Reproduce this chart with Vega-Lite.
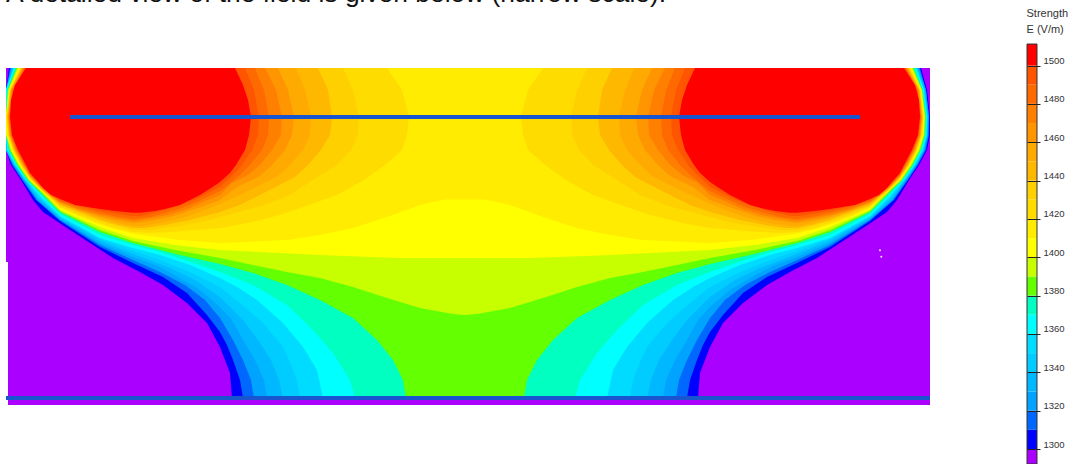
{"$schema":"https://vega.github.io/schema/vega-lite/v6.json","width":1072,"height":464,"autosize":"none","padding":0,"background":"white","config":{"view":{"stroke":null}},
"layer":[
{"layer":[
{"data":{"values":[{"x":6,"x2":930,"y":68,"y2":262},{"x":8,"x2":930,"y":262,"y2":405}]},"mark":{"type":"rect","fill":"#aa00ff"},"encoding":{"x":{"field":"x","type":"quantitative","scale":{"domain":[0,1072],"nice":false,"zero":false},"axis":null},"x2":{"field":"x2"},"y":{"field":"y","type":"quantitative","scale":{"domain":[0,464],"reverse":true,"nice":false,"zero":false},"axis":null},"y2":{"field":"y2"}}},
{"data":{"values":[
{"g":"a00","level":1300,"y":68,"x":9,"x2":921},{"g":"a00","level":1300,"y":90,"x":6,"x2":927},{"g":"a00","level":1300,"y":117,"x":6,"x2":930},{"g":"a00","level":1300,"y":135,"x":6,"x2":930},{"g":"a00","level":1300,"y":150,"x":6,"x2":927},{"g":"a00","level":1300,"y":165,"x":11,"x2":919},{"g":"a00","level":1300,"y":180,"x":21,"x2":909},{"g":"a00","level":1300,"y":200,"x":33,"x2":897},{"g":"a00","level":1300,"y":212,"x":43,"x2":887},{"g":"a00","level":1300,"y":228,"x":67,"x2":863},{"g":"a00","level":1300,"y":243,"x":90,"x2":840},{"g":"a00","level":1300,"y":258,"x":113,"x2":817},{"g":"a00","level":1300,"y":272,"x":140,"x2":790},{"g":"a00","level":1300,"y":285,"x":163,"x2":767},{"g":"a00","level":1300,"y":303,"x":187,"x2":743},{"g":"a00","level":1300,"y":323,"x":207,"x2":723},{"g":"a00","level":1300,"y":347,"x":220,"x2":710},{"g":"a00","level":1300,"y":373,"x":230,"x2":700},{"g":"a00","level":1300,"y":398,"x":232,"x2":698},
{"g":"a01","level":1310,"y":68,"x":10,"x2":920},{"g":"a01","level":1310,"y":90,"x":6,"x2":926},{"g":"a01","level":1310,"y":117,"x":6,"x2":929},{"g":"a01","level":1310,"y":135,"x":6,"x2":929},{"g":"a01","level":1310,"y":150,"x":6,"x2":926},{"g":"a01","level":1310,"y":165,"x":12,"x2":918},{"g":"a01","level":1310,"y":180,"x":22,"x2":908},{"g":"a01","level":1310,"y":200,"x":36,"x2":894},{"g":"a01","level":1310,"y":221,"x":60,"x2":870},{"g":"a01","level":1310,"y":247,"x":100,"x2":830},{"g":"a01","level":1310,"y":263,"x":133,"x2":797},{"g":"a01","level":1310,"y":277,"x":163,"x2":767},{"g":"a01","level":1310,"y":293,"x":187,"x2":743},{"g":"a01","level":1310,"y":315,"x":207,"x2":723},{"g":"a01","level":1310,"y":332,"x":220,"x2":710},{"g":"a01","level":1310,"y":345,"x":227,"x2":703},{"g":"a01","level":1310,"y":360,"x":233,"x2":697},{"g":"a01","level":1310,"y":380,"x":240,"x2":690},{"g":"a01","level":1310,"y":398,"x":243,"x2":687},
{"g":"a02","level":1320,"y":68,"x":11,"x2":919},{"g":"a02","level":1320,"y":90,"x":6,"x2":926},{"g":"a02","level":1320,"y":117,"x":6,"x2":929},{"g":"a02","level":1320,"y":135,"x":6,"x2":928},{"g":"a02","level":1320,"y":150,"x":6,"x2":925},{"g":"a02","level":1320,"y":165,"x":13,"x2":917},{"g":"a02","level":1320,"y":180,"x":23,"x2":907},{"g":"a02","level":1320,"y":200,"x":37,"x2":893},{"g":"a02","level":1320,"y":220,"x":60,"x2":870},{"g":"a02","level":1320,"y":245,"x":100,"x2":830},{"g":"a02","level":1320,"y":260,"x":133,"x2":797},{"g":"a02","level":1320,"y":272,"x":160,"x2":770},{"g":"a02","level":1320,"y":285,"x":185,"x2":745},{"g":"a02","level":1320,"y":300,"x":205,"x2":725},{"g":"a02","level":1320,"y":318,"x":220,"x2":710},{"g":"a02","level":1320,"y":340,"x":233,"x2":697},{"g":"a02","level":1320,"y":360,"x":243,"x2":687},{"g":"a02","level":1320,"y":380,"x":251,"x2":679},{"g":"a02","level":1320,"y":398,"x":254,"x2":676},
{"g":"a03","level":1330,"y":68,"x":12,"x2":918},{"g":"a03","level":1330,"y":90,"x":6,"x2":925},{"g":"a03","level":1330,"y":117,"x":6,"x2":928},{"g":"a03","level":1330,"y":135,"x":6,"x2":928},{"g":"a03","level":1330,"y":150,"x":6,"x2":924},{"g":"a03","level":1330,"y":165,"x":14,"x2":916},{"g":"a03","level":1330,"y":180,"x":24,"x2":906},{"g":"a03","level":1330,"y":200,"x":38,"x2":892},{"g":"a03","level":1330,"y":219,"x":60,"x2":870},{"g":"a03","level":1330,"y":243,"x":100,"x2":830},{"g":"a03","level":1330,"y":257,"x":133,"x2":797},{"g":"a03","level":1330,"y":265,"x":155,"x2":775},{"g":"a03","level":1330,"y":275,"x":175,"x2":755},{"g":"a03","level":1330,"y":290,"x":200,"x2":730},{"g":"a03","level":1330,"y":307,"x":220,"x2":710},{"g":"a03","level":1330,"y":320,"x":232,"x2":698},{"g":"a03","level":1330,"y":340,"x":243,"x2":687},{"g":"a03","level":1330,"y":360,"x":255,"x2":675},{"g":"a03","level":1330,"y":380,"x":264,"x2":666},{"g":"a03","level":1330,"y":398,"x":267,"x2":663},
{"g":"a04","level":1340,"y":68,"x":13,"x2":917},{"g":"a04","level":1340,"y":90,"x":6,"x2":925},{"g":"a04","level":1340,"y":117,"x":6,"x2":928},{"g":"a04","level":1340,"y":135,"x":6,"x2":927},{"g":"a04","level":1340,"y":150,"x":6,"x2":924},{"g":"a04","level":1340,"y":165,"x":14,"x2":916},{"g":"a04","level":1340,"y":180,"x":25,"x2":905},{"g":"a04","level":1340,"y":198,"x":38,"x2":892},{"g":"a04","level":1340,"y":218,"x":60,"x2":870},{"g":"a04","level":1340,"y":241,"x":100,"x2":830},{"g":"a04","level":1340,"y":254,"x":133,"x2":797},{"g":"a04","level":1340,"y":268,"x":170,"x2":760},{"g":"a04","level":1340,"y":280,"x":195,"x2":735},{"g":"a04","level":1340,"y":297,"x":220,"x2":710},{"g":"a04","level":1340,"y":320,"x":243,"x2":687},{"g":"a04","level":1340,"y":340,"x":258,"x2":672},{"g":"a04","level":1340,"y":360,"x":271,"x2":659},{"g":"a04","level":1340,"y":380,"x":279,"x2":651},{"g":"a04","level":1340,"y":398,"x":283,"x2":647},
{"g":"a05","level":1350,"y":68,"x":13.5,"x2":916.5},{"g":"a05","level":1350,"y":90,"x":6,"x2":924},{"g":"a05","level":1350,"y":117,"x":6,"x2":927.4},{"g":"a05","level":1350,"y":135,"x":6,"x2":927},{"g":"a05","level":1350,"y":150,"x":7,"x2":923},{"g":"a05","level":1350,"y":165,"x":15,"x2":915},{"g":"a05","level":1350,"y":180,"x":25,"x2":905},{"g":"a05","level":1350,"y":197,"x":39,"x2":891},{"g":"a05","level":1350,"y":217,"x":60,"x2":870},{"g":"a05","level":1350,"y":239,"x":100,"x2":830},{"g":"a05","level":1350,"y":251,"x":133,"x2":797},{"g":"a05","level":1350,"y":260,"x":160,"x2":770},{"g":"a05","level":1350,"y":272,"x":190,"x2":740},{"g":"a05","level":1350,"y":287,"x":220,"x2":710},{"g":"a05","level":1350,"y":303,"x":240,"x2":690},{"g":"a05","level":1350,"y":323,"x":263,"x2":667},{"g":"a05","level":1350,"y":347,"x":283,"x2":647},{"g":"a05","level":1350,"y":360,"x":289,"x2":641},{"g":"a05","level":1350,"y":380,"x":297,"x2":633},{"g":"a05","level":1350,"y":398,"x":300,"x2":630},
{"g":"a06","level":1360,"y":68,"x":14,"x2":916},{"g":"a06","level":1360,"y":90,"x":6,"x2":924},{"g":"a06","level":1360,"y":117,"x":6,"x2":927},{"g":"a06","level":1360,"y":135,"x":6,"x2":926.4},{"g":"a06","level":1360,"y":150,"x":7.5,"x2":922.5},{"g":"a06","level":1360,"y":165,"x":15.5,"x2":914.5},{"g":"a06","level":1360,"y":180,"x":26,"x2":904},{"g":"a06","level":1360,"y":196,"x":40,"x2":890},{"g":"a06","level":1360,"y":216,"x":60,"x2":870},{"g":"a06","level":1360,"y":238,"x":100,"x2":830},{"g":"a06","level":1360,"y":248,"x":133,"x2":797},{"g":"a06","level":1360,"y":255,"x":160,"x2":770},{"g":"a06","level":1360,"y":265,"x":190,"x2":740},{"g":"a06","level":1360,"y":278,"x":220,"x2":710},{"g":"a06","level":1360,"y":287,"x":237,"x2":693},{"g":"a06","level":1360,"y":300,"x":257,"x2":673},{"g":"a06","level":1360,"y":323,"x":283,"x2":647},{"g":"a06","level":1360,"y":347,"x":303,"x2":627},{"g":"a06","level":1360,"y":370,"x":317,"x2":613},{"g":"a06","level":1360,"y":398,"x":323,"x2":607},
{"g":"a07","level":1370,"y":68,"x":15,"x2":915},{"g":"a07","level":1370,"y":90,"x":7,"x2":923},{"g":"a07","level":1370,"y":117,"x":6,"x2":926.3},{"g":"a07","level":1370,"y":135,"x":6,"x2":925.6},{"g":"a07","level":1370,"y":150,"x":8.5,"x2":921.5},{"g":"a07","level":1370,"y":165,"x":16.5,"x2":913.5},{"g":"a07","level":1370,"y":180,"x":27,"x2":903},{"g":"a07","level":1370,"y":194,"x":40,"x2":890},{"g":"a07","level":1370,"y":214,"x":60,"x2":870},{"g":"a07","level":1370,"y":235,"x":100,"x2":830},{"g":"a07","level":1370,"y":245,"x":133,"x2":797},{"g":"a07","level":1370,"y":252,"x":160,"x2":770},{"g":"a07","level":1370,"y":260,"x":185,"x2":745},{"g":"a07","level":1370,"y":272,"x":220,"x2":710},{"g":"a07","level":1370,"y":285,"x":253,"x2":677},{"g":"a07","level":1370,"y":305,"x":287,"x2":643},{"g":"a07","level":1370,"y":330,"x":313,"x2":617},{"g":"a07","level":1370,"y":353,"x":333,"x2":597},{"g":"a07","level":1370,"y":380,"x":350,"x2":580},{"g":"a07","level":1370,"y":398,"x":355,"x2":575},
{"g":"a08","level":1380,"y":68,"x":16.5,"x2":913.5},{"g":"a08","level":1380,"y":90,"x":8,"x2":922},{"g":"a08","level":1380,"y":117,"x":6,"x2":925.6},{"g":"a08","level":1380,"y":135,"x":6,"x2":924.7},{"g":"a08","level":1380,"y":150,"x":9.6,"x2":920.4},{"g":"a08","level":1380,"y":165,"x":17.6,"x2":912.4},{"g":"a08","level":1380,"y":180,"x":28,"x2":902},{"g":"a08","level":1380,"y":192,"x":40,"x2":890},{"g":"a08","level":1380,"y":212,"x":60,"x2":870},{"g":"a08","level":1380,"y":232,"x":100,"x2":830},{"g":"a08","level":1380,"y":243,"x":133,"x2":797},{"g":"a08","level":1380,"y":255,"x":180,"x2":750},{"g":"a08","level":1380,"y":264,"x":220,"x2":710},{"g":"a08","level":1380,"y":273,"x":253,"x2":677},{"g":"a08","level":1380,"y":285,"x":287,"x2":643},{"g":"a08","level":1380,"y":300,"x":320,"x2":610},{"g":"a08","level":1380,"y":318,"x":353,"x2":577},{"g":"a08","level":1380,"y":340,"x":377,"x2":553},{"g":"a08","level":1380,"y":360,"x":393,"x2":537},{"g":"a08","level":1380,"y":380,"x":403,"x2":527},{"g":"a08","level":1380,"y":398,"x":406,"x2":524},
{"g":"a09","level":1390,"y":68,"x":17.5,"x2":912.5},{"g":"a09","level":1390,"y":90,"x":8,"x2":922},{"g":"a09","level":1390,"y":117,"x":6,"x2":925},{"g":"a09","level":1390,"y":135,"x":6,"x2":924},{"g":"a09","level":1390,"y":150,"x":10.5,"x2":919.5},{"g":"a09","level":1390,"y":165,"x":18.5,"x2":911.5},{"g":"a09","level":1390,"y":180,"x":29,"x2":901},{"g":"a09","level":1390,"y":190,"x":40,"x2":890},{"g":"a09","level":1390,"y":211,"x":60,"x2":870},{"g":"a09","level":1390,"y":230,"x":100,"x2":830},{"g":"a09","level":1390,"y":241,"x":133,"x2":797},{"g":"a09","level":1390,"y":250,"x":175,"x2":755},{"g":"a09","level":1390,"y":258,"x":220,"x2":710},{"g":"a09","level":1390,"y":265,"x":253,"x2":677},{"g":"a09","level":1390,"y":272,"x":287,"x2":643},{"g":"a09","level":1390,"y":278,"x":320,"x2":610},{"g":"a09","level":1390,"y":287,"x":353,"x2":577},{"g":"a09","level":1390,"y":298,"x":387,"x2":543},{"g":"a09","level":1390,"y":308,"x":420,"x2":510},{"g":"a09","level":1390,"y":314,"x":453,"x2":477},{"g":"a09","level":1390,"y":315,"x":465,"x2":465},
{"g":"a10","level":1400,"y":68,"x":18.5,"x2":911.5},{"g":"a10","level":1400,"y":90,"x":9,"x2":921},{"g":"a10","level":1400,"y":117,"x":6,"x2":924.4},{"g":"a10","level":1400,"y":135,"x":6.7,"x2":923.3},{"g":"a10","level":1400,"y":150,"x":11.4,"x2":918.6},{"g":"a10","level":1400,"y":165,"x":19.4,"x2":910.6},{"g":"a10","level":1400,"y":180,"x":30,"x2":900},{"g":"a10","level":1400,"y":188,"x":40,"x2":890},{"g":"a10","level":1400,"y":209.5,"x":60,"x2":870},{"g":"a10","level":1400,"y":227,"x":100,"x2":830},{"g":"a10","level":1400,"y":238,"x":133,"x2":797},{"g":"a10","level":1400,"y":245,"x":175,"x2":755},{"g":"a10","level":1400,"y":250,"x":220,"x2":710},{"g":"a10","level":1400,"y":255,"x":320,"x2":610},{"g":"a10","level":1400,"y":257,"x":370,"x2":560},{"g":"a10","level":1400,"y":258,"x":400,"x2":530},
{"g":"a11","level":1410,"y":68,"x":19,"x2":911},{"g":"a11","level":1410,"y":90,"x":9,"x2":921},{"g":"a11","level":1410,"y":117,"x":6,"x2":924},{"g":"a11","level":1410,"y":135,"x":7,"x2":923},{"g":"a11","level":1410,"y":150,"x":12,"x2":918},{"g":"a11","level":1410,"y":165,"x":20,"x2":910},{"g":"a11","level":1410,"y":180,"x":29,"x2":901},{"g":"a11","level":1410,"y":195,"x":45,"x2":885},{"g":"a11","level":1410,"y":207,"x":58,"x2":872},{"g":"a11","level":1410,"y":215,"x":75,"x2":855},{"g":"a11","level":1410,"y":223,"x":95,"x2":835},{"g":"a11","level":1410,"y":228,"x":110,"x2":820},{"g":"a11","level":1410,"y":234,"x":135,"x2":795},{"g":"a11","level":1410,"y":240,"x":180,"x2":750},{"g":"a11","level":1410,"y":243,"x":220,"x2":710},
{"g":"hump","level":1400,"y":199.5,"x":445,"x2":485},{"g":"hump","level":1400,"y":201,"x":437,"x2":493},{"g":"hump","level":1400,"y":205,"x":420,"x2":510},{"g":"hump","level":1400,"y":217,"x":387,"x2":543},{"g":"hump","level":1400,"y":228,"x":353,"x2":577},{"g":"hump","level":1400,"y":235,"x":320,"x2":610},{"g":"hump","level":1400,"y":240,"x":287,"x2":643},{"g":"hump","level":1400,"y":243,"x":220,"x2":710},{"g":"hump","level":1400,"y":244,"x":220,"x2":710},
{"g":"b20L","level":1420,"y":68,"x":20,"x2":387},{"g":"b20L","level":1420,"y":90,"x":10,"x2":402},{"g":"b20L","level":1420,"y":117,"x":6.5,"x2":409},{"g":"b20L","level":1420,"y":135,"x":8,"x2":407},{"g":"b20L","level":1420,"y":150,"x":13,"x2":402},{"g":"b20L","level":1420,"y":165,"x":21,"x2":385},{"g":"b20L","level":1420,"y":180,"x":31,"x2":364},{"g":"b20L","level":1420,"y":195,"x":47,"x2":337},{"g":"b20L","level":1420,"y":207,"x":60,"x2":303},{"g":"b20L","level":1420,"y":215,"x":78,"x2":280},{"g":"b20L","level":1420,"y":223,"x":100,"x2":248},{"g":"b20L","level":1420,"y":228,"x":115,"x2":220},{"g":"b20L","level":1420,"y":232,"x":133,"x2":170},{"g":"b20L","level":1420,"y":233,"x":150,"x2":150},
{"g":"b20R","level":1420,"y":68,"x":543,"x2":910},{"g":"b20R","level":1420,"y":90,"x":528,"x2":920},{"g":"b20R","level":1420,"y":117,"x":521,"x2":923.5},{"g":"b20R","level":1420,"y":135,"x":523,"x2":922},{"g":"b20R","level":1420,"y":150,"x":528,"x2":917},{"g":"b20R","level":1420,"y":165,"x":545,"x2":909},{"g":"b20R","level":1420,"y":180,"x":566,"x2":899},{"g":"b20R","level":1420,"y":195,"x":593,"x2":883},{"g":"b20R","level":1420,"y":207,"x":627,"x2":870},{"g":"b20R","level":1420,"y":215,"x":650,"x2":852},{"g":"b20R","level":1420,"y":223,"x":682,"x2":830},{"g":"b20R","level":1420,"y":228,"x":710,"x2":815},{"g":"b20R","level":1420,"y":232,"x":760,"x2":797},{"g":"b20R","level":1420,"y":233,"x":780,"x2":780},
{"g":"b30L","level":1430,"y":68,"x":21,"x2":343},{"g":"b30L","level":1430,"y":90,"x":10,"x2":353},{"g":"b30L","level":1430,"y":117,"x":7,"x2":359},{"g":"b30L","level":1430,"y":135,"x":8.5,"x2":358},{"g":"b30L","level":1430,"y":150,"x":13.5,"x2":351},{"g":"b30L","level":1430,"y":165,"x":21.5,"x2":337},{"g":"b30L","level":1430,"y":178,"x":30,"x2":316},{"g":"b30L","level":1430,"y":195,"x":48,"x2":290},{"g":"b30L","level":1430,"y":206,"x":60,"x2":262},{"g":"b30L","level":1430,"y":215,"x":82,"x2":228},{"g":"b30L","level":1430,"y":221,"x":100,"x2":205},{"g":"b30L","level":1430,"y":226,"x":118,"x2":180},{"g":"b30L","level":1430,"y":230,"x":133,"x2":150},
{"g":"b30R","level":1430,"y":68,"x":587,"x2":909},{"g":"b30R","level":1430,"y":90,"x":577,"x2":920},{"g":"b30R","level":1430,"y":117,"x":571,"x2":923},{"g":"b30R","level":1430,"y":135,"x":572,"x2":921.5},{"g":"b30R","level":1430,"y":150,"x":579,"x2":916.5},{"g":"b30R","level":1430,"y":165,"x":593,"x2":908.5},{"g":"b30R","level":1430,"y":178,"x":614,"x2":900},{"g":"b30R","level":1430,"y":195,"x":640,"x2":882},{"g":"b30R","level":1430,"y":206,"x":668,"x2":870},{"g":"b30R","level":1430,"y":215,"x":702,"x2":848},{"g":"b30R","level":1430,"y":221,"x":725,"x2":830},{"g":"b30R","level":1430,"y":226,"x":750,"x2":812},{"g":"b30R","level":1430,"y":230,"x":780,"x2":797},
{"g":"b40L","level":1440,"y":68,"x":21.5,"x2":318},{"g":"b40L","level":1440,"y":90,"x":10.5,"x2":328},{"g":"b40L","level":1440,"y":117,"x":7.4,"x2":332},{"g":"b40L","level":1440,"y":135,"x":9,"x2":330},{"g":"b40L","level":1440,"y":150,"x":14,"x2":321},{"g":"b40L","level":1440,"y":165,"x":22,"x2":308},{"g":"b40L","level":1440,"y":177,"x":30,"x2":295},{"g":"b40L","level":1440,"y":195,"x":49,"x2":260},{"g":"b40L","level":1440,"y":205,"x":60,"x2":240},{"g":"b40L","level":1440,"y":212,"x":80,"x2":220},{"g":"b40L","level":1440,"y":220,"x":100,"x2":190},{"g":"b40L","level":1440,"y":225,"x":118,"x2":165},{"g":"b40L","level":1440,"y":228,"x":133,"x2":145},
{"g":"b40R","level":1440,"y":68,"x":612,"x2":908.5},{"g":"b40R","level":1440,"y":90,"x":602,"x2":919.5},{"g":"b40R","level":1440,"y":117,"x":598,"x2":922.6},{"g":"b40R","level":1440,"y":135,"x":600,"x2":921},{"g":"b40R","level":1440,"y":150,"x":609,"x2":916},{"g":"b40R","level":1440,"y":165,"x":622,"x2":908},{"g":"b40R","level":1440,"y":177,"x":635,"x2":900},{"g":"b40R","level":1440,"y":195,"x":670,"x2":881},{"g":"b40R","level":1440,"y":205,"x":690,"x2":870},{"g":"b40R","level":1440,"y":212,"x":710,"x2":850},{"g":"b40R","level":1440,"y":220,"x":740,"x2":830},{"g":"b40R","level":1440,"y":225,"x":765,"x2":812},{"g":"b40R","level":1440,"y":228,"x":785,"x2":797},
{"g":"b50L","level":1450,"y":68,"x":22,"x2":296},{"g":"b50L","level":1450,"y":90,"x":11,"x2":305},{"g":"b50L","level":1450,"y":117,"x":7.8,"x2":311},{"g":"b50L","level":1450,"y":135,"x":9.4,"x2":310},{"g":"b50L","level":1450,"y":150,"x":14.5,"x2":303},{"g":"b50L","level":1450,"y":165,"x":22.5,"x2":290},{"g":"b50L","level":1450,"y":176.7,"x":30,"x2":277},{"g":"b50L","level":1450,"y":190,"x":42,"x2":250},{"g":"b50L","level":1450,"y":204,"x":60,"x2":220},{"g":"b50L","level":1450,"y":212,"x":80,"x2":200},{"g":"b50L","level":1450,"y":218,"x":100,"x2":182},{"g":"b50L","level":1450,"y":223,"x":118,"x2":160},{"g":"b50L","level":1450,"y":226,"x":133,"x2":140},
{"g":"b50R","level":1450,"y":68,"x":634,"x2":908},{"g":"b50R","level":1450,"y":90,"x":625,"x2":919},{"g":"b50R","level":1450,"y":117,"x":619,"x2":922.2},{"g":"b50R","level":1450,"y":135,"x":620,"x2":920.6},{"g":"b50R","level":1450,"y":150,"x":627,"x2":915.5},{"g":"b50R","level":1450,"y":165,"x":640,"x2":907.5},{"g":"b50R","level":1450,"y":176.7,"x":653,"x2":900},{"g":"b50R","level":1450,"y":190,"x":680,"x2":888},{"g":"b50R","level":1450,"y":204,"x":710,"x2":870},{"g":"b50R","level":1450,"y":212,"x":730,"x2":850},{"g":"b50R","level":1450,"y":218,"x":748,"x2":830},{"g":"b50R","level":1450,"y":223,"x":770,"x2":812},{"g":"b50R","level":1450,"y":226,"x":790,"x2":797},
{"g":"b60L","level":1460,"y":68,"x":23,"x2":278},{"g":"b60L","level":1460,"y":90,"x":11,"x2":288},{"g":"b60L","level":1460,"y":117,"x":8.2,"x2":294},{"g":"b60L","level":1460,"y":135,"x":9.8,"x2":292},{"g":"b60L","level":1460,"y":150,"x":15,"x2":285},{"g":"b60L","level":1460,"y":165,"x":23,"x2":272},{"g":"b60L","level":1460,"y":176,"x":30,"x2":260},{"g":"b60L","level":1460,"y":187,"x":40,"x2":237},{"g":"b60L","level":1460,"y":200,"x":56,"x2":220},{"g":"b60L","level":1460,"y":203,"x":60,"x2":212},{"g":"b60L","level":1460,"y":210,"x":80,"x2":192},{"g":"b60L","level":1460,"y":216.4,"x":100,"x2":172},{"g":"b60L","level":1460,"y":220,"x":115,"x2":155},{"g":"b60L","level":1460,"y":223,"x":133,"x2":135},
{"g":"b60R","level":1460,"y":68,"x":652,"x2":907},{"g":"b60R","level":1460,"y":90,"x":642,"x2":919},{"g":"b60R","level":1460,"y":117,"x":636,"x2":921.8},{"g":"b60R","level":1460,"y":135,"x":638,"x2":920.2},{"g":"b60R","level":1460,"y":150,"x":645,"x2":915},{"g":"b60R","level":1460,"y":165,"x":658,"x2":907},{"g":"b60R","level":1460,"y":176,"x":670,"x2":900},{"g":"b60R","level":1460,"y":187,"x":693,"x2":890},{"g":"b60R","level":1460,"y":200,"x":710,"x2":874},{"g":"b60R","level":1460,"y":203,"x":718,"x2":870},{"g":"b60R","level":1460,"y":210,"x":738,"x2":850},{"g":"b60R","level":1460,"y":216.4,"x":758,"x2":830},{"g":"b60R","level":1460,"y":220,"x":775,"x2":815},{"g":"b60R","level":1460,"y":223,"x":795,"x2":797},
{"g":"b70L","level":1470,"y":68,"x":23.5,"x2":265},{"g":"b70L","level":1470,"y":90,"x":12,"x2":276},{"g":"b70L","level":1470,"y":117,"x":8.6,"x2":282},{"g":"b70L","level":1470,"y":135,"x":10.3,"x2":281},{"g":"b70L","level":1470,"y":150,"x":16,"x2":272},{"g":"b70L","level":1470,"y":165,"x":24,"x2":260},{"g":"b70L","level":1470,"y":175.4,"x":30,"x2":247},{"g":"b70L","level":1470,"y":183,"x":37,"x2":232},{"g":"b70L","level":1470,"y":195,"x":50,"x2":220},{"g":"b70L","level":1470,"y":202,"x":60,"x2":203},{"g":"b70L","level":1470,"y":210,"x":80,"x2":185},{"g":"b70L","level":1470,"y":215,"x":100,"x2":168},{"g":"b70L","level":1470,"y":218,"x":115,"x2":152},{"g":"b70L","level":1470,"y":221,"x":133,"x2":135},
{"g":"b70R","level":1470,"y":68,"x":665,"x2":906.5},{"g":"b70R","level":1470,"y":90,"x":654,"x2":918},{"g":"b70R","level":1470,"y":117,"x":648,"x2":921.4},{"g":"b70R","level":1470,"y":135,"x":649,"x2":919.7},{"g":"b70R","level":1470,"y":150,"x":658,"x2":914},{"g":"b70R","level":1470,"y":165,"x":670,"x2":906},{"g":"b70R","level":1470,"y":175.4,"x":683,"x2":900},{"g":"b70R","level":1470,"y":183,"x":698,"x2":893},{"g":"b70R","level":1470,"y":195,"x":710,"x2":880},{"g":"b70R","level":1470,"y":202,"x":727,"x2":870},{"g":"b70R","level":1470,"y":210,"x":745,"x2":850},{"g":"b70R","level":1470,"y":215,"x":762,"x2":830},{"g":"b70R","level":1470,"y":218,"x":778,"x2":815},{"g":"b70R","level":1470,"y":221,"x":795,"x2":797},
{"g":"b80L","level":1480,"y":68,"x":24,"x2":255},{"g":"b80L","level":1480,"y":90,"x":12.5,"x2":264},{"g":"b80L","level":1480,"y":117,"x":9,"x2":269},{"g":"b80L","level":1480,"y":135,"x":11,"x2":268},{"g":"b80L","level":1480,"y":150,"x":16.5,"x2":262},{"g":"b80L","level":1480,"y":165,"x":24.5,"x2":250},{"g":"b80L","level":1480,"y":174.7,"x":30,"x2":240},{"g":"b80L","level":1480,"y":185,"x":39,"x2":228},{"g":"b80L","level":1480,"y":191,"x":46,"x2":220},{"g":"b80L","level":1480,"y":201.4,"x":60,"x2":198},{"g":"b80L","level":1480,"y":208,"x":80,"x2":182},{"g":"b80L","level":1480,"y":213,"x":100,"x2":165},{"g":"b80L","level":1480,"y":217,"x":118,"x2":150},{"g":"b80L","level":1480,"y":219,"x":133,"x2":135},
{"g":"b80R","level":1480,"y":68,"x":675,"x2":906},{"g":"b80R","level":1480,"y":90,"x":666,"x2":917.5},{"g":"b80R","level":1480,"y":117,"x":661,"x2":921},{"g":"b80R","level":1480,"y":135,"x":662,"x2":919},{"g":"b80R","level":1480,"y":150,"x":668,"x2":913.5},{"g":"b80R","level":1480,"y":165,"x":680,"x2":905.5},{"g":"b80R","level":1480,"y":174.7,"x":690,"x2":900},{"g":"b80R","level":1480,"y":185,"x":702,"x2":891},{"g":"b80R","level":1480,"y":191,"x":710,"x2":884},{"g":"b80R","level":1480,"y":201.4,"x":732,"x2":870},{"g":"b80R","level":1480,"y":208,"x":748,"x2":850},{"g":"b80R","level":1480,"y":213,"x":765,"x2":830},{"g":"b80R","level":1480,"y":217,"x":780,"x2":812},{"g":"b80R","level":1480,"y":219,"x":795,"x2":797},
{"g":"b90L","level":1490,"y":68,"x":25,"x2":245},{"g":"b90L","level":1490,"y":90,"x":13,"x2":254},{"g":"b90L","level":1490,"y":117,"x":9.5,"x2":259},{"g":"b90L","level":1490,"y":135,"x":11.5,"x2":258},{"g":"b90L","level":1490,"y":150,"x":17,"x2":252},{"g":"b90L","level":1490,"y":165,"x":25,"x2":242},{"g":"b90L","level":1490,"y":174,"x":30,"x2":234},{"g":"b90L","level":1490,"y":187,"x":43,"x2":220},{"g":"b90L","level":1490,"y":200,"x":60,"x2":194},{"g":"b90L","level":1490,"y":206,"x":80,"x2":178},{"g":"b90L","level":1490,"y":211,"x":100,"x2":162},{"g":"b90L","level":1490,"y":216,"x":130,"x2":140},
{"g":"b90R","level":1490,"y":68,"x":685,"x2":905},{"g":"b90R","level":1490,"y":90,"x":676,"x2":917},{"g":"b90R","level":1490,"y":117,"x":671,"x2":920.5},{"g":"b90R","level":1490,"y":135,"x":672,"x2":918.5},{"g":"b90R","level":1490,"y":150,"x":678,"x2":913},{"g":"b90R","level":1490,"y":165,"x":688,"x2":905},{"g":"b90R","level":1490,"y":174,"x":696,"x2":900},{"g":"b90R","level":1490,"y":187,"x":710,"x2":887},{"g":"b90R","level":1490,"y":200,"x":736,"x2":870},{"g":"b90R","level":1490,"y":206,"x":752,"x2":850},{"g":"b90R","level":1490,"y":211,"x":768,"x2":830},{"g":"b90R","level":1490,"y":216,"x":790,"x2":800},
{"g":"c00L","level":1500,"y":68,"x":26,"x2":235},{"g":"c00L","level":1500,"y":85,"x":15,"x2":243},{"g":"c00L","level":1500,"y":100,"x":11,"x2":248},{"g":"c00L","level":1500,"y":117,"x":10,"x2":251},{"g":"c00L","level":1500,"y":135,"x":12,"x2":249},{"g":"c00L","level":1500,"y":150,"x":18,"x2":245},{"g":"c00L","level":1500,"y":165,"x":26,"x2":236},{"g":"c00L","level":1500,"y":173,"x":30,"x2":230},{"g":"c00L","level":1500,"y":182,"x":38,"x2":220},{"g":"c00L","level":1500,"y":188,"x":43,"x2":211},{"g":"c00L","level":1500,"y":195,"x":51,"x2":200},{"g":"c00L","level":1500,"y":199,"x":60,"x2":192},{"g":"c00L","level":1500,"y":205,"x":75,"x2":180},{"g":"c00L","level":1500,"y":209,"x":100,"x2":165},{"g":"c00L","level":1500,"y":211,"x":115,"x2":155},{"g":"c00L","level":1500,"y":212.7,"x":133,"x2":140},
{"g":"c00R","level":1500,"y":68,"x":695,"x2":904},{"g":"c00R","level":1500,"y":85,"x":687,"x2":915},{"g":"c00R","level":1500,"y":100,"x":682,"x2":919},{"g":"c00R","level":1500,"y":117,"x":679,"x2":920},{"g":"c00R","level":1500,"y":135,"x":681,"x2":918},{"g":"c00R","level":1500,"y":150,"x":685,"x2":912},{"g":"c00R","level":1500,"y":165,"x":694,"x2":904},{"g":"c00R","level":1500,"y":173,"x":700,"x2":900},{"g":"c00R","level":1500,"y":182,"x":710,"x2":892},{"g":"c00R","level":1500,"y":188,"x":719,"x2":887},{"g":"c00R","level":1500,"y":195,"x":730,"x2":879},{"g":"c00R","level":1500,"y":199,"x":738,"x2":870},{"g":"c00R","level":1500,"y":205,"x":750,"x2":855},{"g":"c00R","level":1500,"y":209,"x":765,"x2":830},{"g":"c00R","level":1500,"y":211,"x":775,"x2":815},{"g":"c00R","level":1500,"y":212.7,"x":790,"x2":797}
]},"mark":{"type":"area","orient":"horizontal"},"encoding":{"y":{"field":"y","type":"quantitative","scale":{"domain":[0,464],"reverse":true,"nice":false,"zero":false},"axis":null},"x":{"field":"x","type":"quantitative","scale":{"domain":[0,1072],"nice":false,"zero":false},"axis":null,"stack":null},"x2":{"field":"x2"},"detail":{"field":"g"},"color":{"field":"level","type":"ordinal","legend":null,"scale":{"domain":[1290,1300,1310,1320,1330,1340,1350,1360,1370,1380,1390,1400,1410,1420,1430,1440,1450,1460,1470,1480,1490,1500],"range":["#aa00ff","#0000ff","#0068ff","#00a4ff","#00b8ff","#00ccff","#00dcff","#00ffff","#00ffc0","#64ff00","#c8ff00","#ffff00","#ffec00","#ffdc00","#ffd000","#ffb800","#ffaa00","#ff9500","#ff8000","#ff6a00","#ff5500","#ff0000"]}}}},
{"data":{"values":[{"x":70,"x2":860,"y":117},{"x":6,"x2":930,"y":398}]},"mark":{"type":"rule","color":"#1a55d0","strokeWidth":4},"encoding":{"x":{"field":"x","type":"quantitative","scale":{"domain":[0,1072],"nice":false,"zero":false},"axis":null},"x2":{"field":"x2"},"y":{"field":"y","type":"quantitative","scale":{"domain":[0,464],"reverse":true,"nice":false,"zero":false},"axis":null}}},
{"data":{"values":[{"x":880,"y":250.3},{"x":881.3,"y":256.7}]},"mark":{"type":"point","filled":true,"color":"#f4e6ff","size":4,"opacity":1},"encoding":{"x":{"field":"x","type":"quantitative","scale":{"domain":[0,1072],"nice":false,"zero":false},"axis":null},"y":{"field":"y","type":"quantitative","scale":{"domain":[0,464],"reverse":true,"nice":false,"zero":false},"axis":null}}},
{"data":{"values":[{"t":"A detailed view of the field is given below (narrow scale):","x":6,"y":2}]},"mark":{"type":"text","align":"left","baseline":"alphabetic","font":"Liberation Sans","fontSize":26.4,"color":"#111111"},"encoding":{"text":{"field":"t"},"x":{"field":"x","type":"quantitative","scale":{"domain":[0,1072],"nice":false,"zero":false},"axis":null},"y":{"field":"y","type":"quantitative","scale":{"domain":[0,464],"reverse":true,"nice":false,"zero":false},"axis":null}}},
{"data":{"values":[{"t":"Strength","x":1026.5,"y":14},{"t":"E (V/m)","x":1026.5,"y":30}]},"mark":{"type":"text","align":"left","baseline":"middle","font":"Liberation Sans","fontSize":11,"color":"#333333"},"encoding":{"text":{"field":"t"},"x":{"field":"x","type":"quantitative","scale":{"domain":[0,1072],"nice":false,"zero":false},"axis":null},"y":{"field":"y","type":"quantitative","scale":{"domain":[0,464],"reverse":true,"nice":false,"zero":false},"axis":null}}}
]},
{"layer":[
{"data":{"values":[{"level":1290,"lo":1292.18,"hi":1300},{"level":1300,"lo":1300,"hi":1310},{"level":1310,"lo":1310,"hi":1320},{"level":1320,"lo":1320,"hi":1330},{"level":1330,"lo":1330,"hi":1340},{"level":1340,"lo":1340,"hi":1350},{"level":1350,"lo":1350,"hi":1360},{"level":1360,"lo":1360,"hi":1370},{"level":1370,"lo":1370,"hi":1380},{"level":1380,"lo":1380,"hi":1390},{"level":1390,"lo":1390,"hi":1400},{"level":1400,"lo":1400,"hi":1410},{"level":1410,"lo":1410,"hi":1420},{"level":1420,"lo":1420,"hi":1430},{"level":1430,"lo":1430,"hi":1440},{"level":1440,"lo":1440,"hi":1450},{"level":1450,"lo":1450,"hi":1460},{"level":1460,"lo":1460,"hi":1470},{"level":1470,"lo":1470,"hi":1480},{"level":1480,"lo":1480,"hi":1490},{"level":1490,"lo":1490,"hi":1500},{"level":1500,"lo":1500,"hi":1511.2}]},"mark":{"type":"rect"},"encoding":{"x":{"datum":1027,"type":"quantitative","scale":{"domain":[0,1072],"nice":false,"zero":false},"axis":null},"x2":{"datum":1037},"y":{"field":"lo","type":"quantitative","scale":{"domain":[1292.18,1534.16],"nice":false,"zero":false},"axis":{"orient":"right","offset":-45,"values":[1300,1320,1340,1360,1380,1400,1420,1440,1460,1480,1500],"title":null,"domain":false,"grid":false,"tickSize":13,"tickColor":"#222222","tickWidth":1,"labelFont":"Liberation Sans","labelFontSize":9.5,"labelColor":"#333333","labelPadding":3,"labelOffset":-5,"labelOverlap":false,"labelFlush":false,"format":"d","zindex":1}},"y2":{"field":"hi"},"color":{"field":"level","type":"ordinal","legend":null,"scale":{"domain":[1290,1300,1310,1320,1330,1340,1350,1360,1370,1380,1390,1400,1410,1420,1430,1440,1450,1460,1470,1480,1490,1500],"range":["#aa00ff","#0000ff","#0068ff","#00a4ff","#00b8ff","#00ccff","#00dcff","#00ffff","#00ffc0","#64ff00","#c8ff00","#ffff00","#ffec00","#ffdc00","#ffd000","#ffb800","#ffaa00","#ff9500","#ff8000","#ff6a00","#ff5500","#ff0000"]}}}},
{"data":{"values":[{"lo":1292.18,"hi":1511.2}]},"mark":{"type":"rect","fill":null,"stroke":"#333333","strokeWidth":1},"encoding":{"x":{"datum":1027,"type":"quantitative","scale":{"domain":[0,1072],"nice":false,"zero":false},"axis":null},"x2":{"datum":1037},"y":{"field":"lo","type":"quantitative"},"y2":{"field":"hi"}}}
]}
],"resolve":{"scale":{"y":"independent"}}}
